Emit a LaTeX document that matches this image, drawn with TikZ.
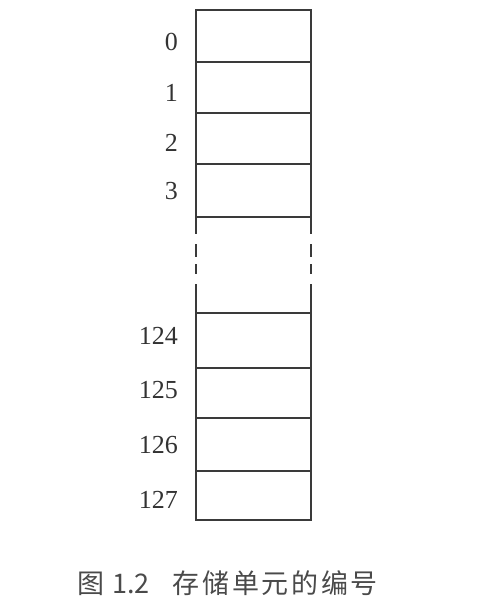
\documentclass[tikz,border=0pt]{standalone}
\usepackage{fontspec}
\usepackage{tikz}
\setmainfont{Liberation Serif}
\newfontfamily\capfont{Noto Sans CJK SC}
\newfontfamily\capspaced[LetterSpace=10]{Noto Sans CJK SC}
\definecolor{linegray}{HTML}{3A3A3A}
\definecolor{numgray}{HTML}{333333}
\definecolor{capgray}{HTML}{4A4A4A}

\begin{document}
\begin{tikzpicture}[x=1pt, y=-1pt,
    cell/.style={draw=linegray, line width=2.6pt, minimum width=115pt, inner sep=0pt, outer sep=0pt},
    wall/.style={linegray, line width=2.6pt, dash pattern=on 17pt off 10pt on 13pt off 7pt on 10pt off 10pt on 28pt},
    num/.style={anchor=east, text=numgray, inner sep=0pt, font=\fontsize{26}{30}\selectfont}]

\useasboundingbox (0,0) rectangle (484,604);

% cells 0..3
\node[cell, minimum height=52pt] (c0) at (253.5,36) {};
\node[cell, minimum height=51pt] (c1) at (253.5,87.5) {};
\node[cell, minimum height=51pt] (c2) at (253.5,138.5) {};
\node[cell, minimum height=53pt] (c3) at (253.5,190.5) {};

% cells 124..127
\node[cell, minimum height=55pt] (c124) at (253.5,340.5) {};
\node[cell, minimum height=50pt] (c125) at (253.5,393) {};
\node[cell, minimum height=53pt] (c126) at (253.5,444.5) {};
\node[cell, minimum height=49pt] (c127) at (253.5,495.5) {};

% the broken part in between
\draw[wall] (c3.south west) -- (c124.north west);
\draw[wall] (c3.south east) -- (c124.north east);

% numbers
\node[num] (n0) at (178,42) {0};
\node[num] (n1) at (178,92.5) {1};
\node[num] (n2) at (178,142.5) {2};
\node[num] (n3) at (178,191.5) {3};
\node[num] (n124) at (178,336) {124};
\node[num] (n125) at (178,390.5) {125};
\node[num] (n126) at (178,445.5) {126};
\node[num] (n127) at (178,500) {127};

\node[text=capgray, inner sep=0pt, font=\capfont\fontsize{27}{30}\selectfont] (cap) at (227.5,583)
    {图\hspace{8pt}1.2\hspace{23pt}{\capspaced 存储单元的编号}};

\end{tikzpicture}
\end{document}
